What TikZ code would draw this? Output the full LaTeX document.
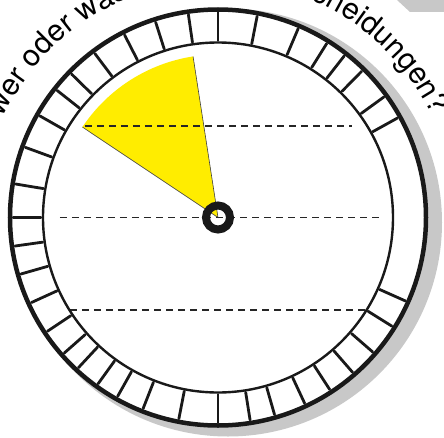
\documentclass[tikz,border=0pt]{standalone}
\usepackage{fontspec}
\newfontfamily\dialfont{TeX Gyre Heros}
\usepackage{tikz}
\usetikzlibrary{
  calc, decorations.text
}
\definecolor{dialyellow}{RGB}{255,237,0}
\definecolor{dialshade}{RGB}{200,200,200}
\tikzset{
  dl rim/.style={draw=black!90, line width=4.5pt},
  dl inner/.style={draw=black!90, line width=2.4pt},
  dl tick/.style={draw=black!90, line width=2.8pt, line cap=round},
  dl guide/.style={draw=black!85, line width=1.4pt, dash pattern=on 7pt off 5pt},
  dl edge/.style={draw=black!75, line width=0.6pt},
  dl hub/.style={circle, draw=black!90, line width=8pt, minimum size=24pt,
    inner sep=0pt},
  dl label/.style={decorate, decoration={text along path, text align=left,
    text={|\dialfont\fontsize{30}{32}\selectfont|#1}}},
}

\begin{document}
\begin{tikzpicture}[x=1pt, y=1pt]
 \useasboundingbox (-218,-219.5) rectangle (226,217.5);
 \clip (-218,-219.5) rectangle (226,217.5);
 % shadows
 \fill[dialshade] (179,217.5) -- (192,205.5) -- (226,205.5) -- (226,217.5) -- cycle;
 \fill[dialshade] (10,-5) circle[radius=214pt];
 \fill[white] (0,0) circle[radius=209pt];
 % yellow wedge
 \fill[dialyellow] (0,0) -- (146.3:163pt)
   arc[start angle=146.3, end angle=98.8, radius=163pt] -- cycle;
 \draw[dl edge] (146.3:163pt) -- (0,0) -- (98.8:163pt);
 % dashed lines
 \draw[dl guide] (-133,91.5) -- (134,91.5);
 \draw[dl guide] (-158,0) -- (162,0);
 \draw[dl guide] (-148,-92.5) -- (150,-92.5);
 % dial
 \draw[dl inner] (0,0) circle[radius=175pt];
 \foreach \a in {90,79,67,58,52,45.5,36,29,
   -24,-32,-41,-49,-57,-65,-74,-81,
   -90,-101,-111.4,-119.3,-125.8,-132.9,-138.6,-146.3,-155.5,-164,-172,
   180,170.6,160,150.3,141.7,135.6,126.9,117.1,107.7,98.3}
   \draw[dl tick] (\a:177pt) -- (\a:205pt);
 \draw[dl rim] (0,0) circle[radius=208pt];
 \node[dl hub] (hub) at (0,0) {};
 % text round the rim
 \path[dl label={wer oder was}] (155:237pt)
   arc[start angle=155, end angle=95, radius=237pt];
 \path[dl label={scheidungen?}] (70.6:237pt)
   arc[start angle=70.6, end angle=5, radius=237pt];
\end{tikzpicture}
\end{document}
